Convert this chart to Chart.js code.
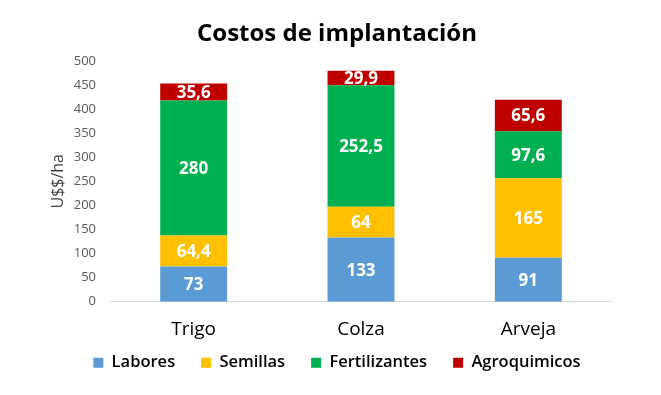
<!DOCTYPE html>
<html>
<head>
<meta charset="utf-8">
<script src="https://cdn.jsdelivr.net/npm/chart.js@4"></script>
<style>
    html, body { margin: 0; padding: 0; background: #fff; }
    #wrap { width: 661px; height: 395px; }
</style>
</head>
<body>
<div id="wrap"><canvas id="chart" width="661" height="395"></canvas></div>
<script>
"use strict";

// datos
const cultivos = ['Trigo', 'Colza', 'Arveja'];
const labores = [73, 133, 91];
const semillas = [64.4, 64, 165];
const fertilizantes = [280, 252.5, 97.6];
const agroquimicos = [35.6, 29.9, 65.6];

const fontFam = "'Open Sans', 'Liberation Sans', sans-serif";

// etiquetas blancas dentro de cada segmento
const valueLabels = {
    id: 'valueLabels',
    afterDatasetsDraw(chart) {
        const ctx = chart.ctx;
        ctx.save();
        ctx.fillStyle = '#ffffff';
        ctx.font = 'bold 17px ' + fontFam;
        ctx.textAlign = 'center';
        ctx.textBaseline = 'middle';
        chart.data.datasets.forEach((ds, i) => {
            const meta = chart.getDatasetMeta(i);
            meta.data.forEach((bar, j) => {
                const txt = String(ds.data[j]).replace('.', ',');
                const y = (bar.y + bar.base) / 2;
                ctx.fillText(txt, bar.x, y + 1);
            });
        });
        ctx.restore();
    }
};

// leyenda mas arriba (el padding tambien separa los items)
const legendShift = {
    id: 'legendShift',
    afterLayout(chart) {
        if (chart.legend) {
            chart.legend.top -= 28;
            chart.legend.bottom -= 28;
        }
    }
};

new Chart(document.getElementById('chart').getContext('2d'), {
    type: 'bar',
    data: {
        labels: cultivos,
        datasets: [
            { label: 'Labores', data: labores, backgroundColor: '#5B9BD5' },
            { label: 'Semillas', data: semillas, backgroundColor: '#FFC000' },
            { label: 'Fertilizantes', data: fertilizantes, backgroundColor: '#00B050' },
            { label: 'Agroquimicos', data: agroquimicos, backgroundColor: '#C00000' }
        ]
    },
    options: {
        responsive: false,
        animation: false,
        layout: { padding: { left: 62, right: 49, top: 0, bottom: -14 } },
        datasets: {
            bar: { categoryPercentage: 1, barPercentage: 0.4 }
        },
        plugins: {
            title: {
                display: true,
                text: 'Costos de implantación',
                color: '#000000',
                font: { family: fontFam, size: 24, weight: 'bold' },
                padding: { top: 20, bottom: 12 }
            },
            legend: {
                display: true,
                position: 'bottom',
                labels: {
                    color: '#000000',
                    font: { family: fontFam, size: 16.5, weight: '600' },
                    boxWidth: 10,
                    boxHeight: 10,
                    padding: 26
                }
            },
            tooltip: { enabled: false }
        },
        scales: {
            x: {
                stacked: true,
                grid: { display: false, drawTicks: false },
                border: { color: '#d9d9d9', width: 1 },
                ticks: {
                    color: '#000000',
                    font: { family: fontFam, size: 19 },
                    padding: 16
                }
            },
            y: {
                stacked: true,
                min: 0,
                max: 500,
                afterFit(scale) { scale.width = 48; },
                grid: { display: false, drawTicks: false },
                border: { display: false },
                ticks: {
                    stepSize: 50,
                    color: '#595959',
                    font: { family: fontFam, size: 13 },
                    padding: 14
                },
                title: {
                    display: true,
                    text: 'U$$/ha',
                    color: '#404040',
                    font: { family: fontFam, size: 16 },
                    padding: { top: -13, bottom: 0 }
                }
            }
        }
    },
    plugins: [valueLabels, legendShift]
});
</script>
</body>
</html>
